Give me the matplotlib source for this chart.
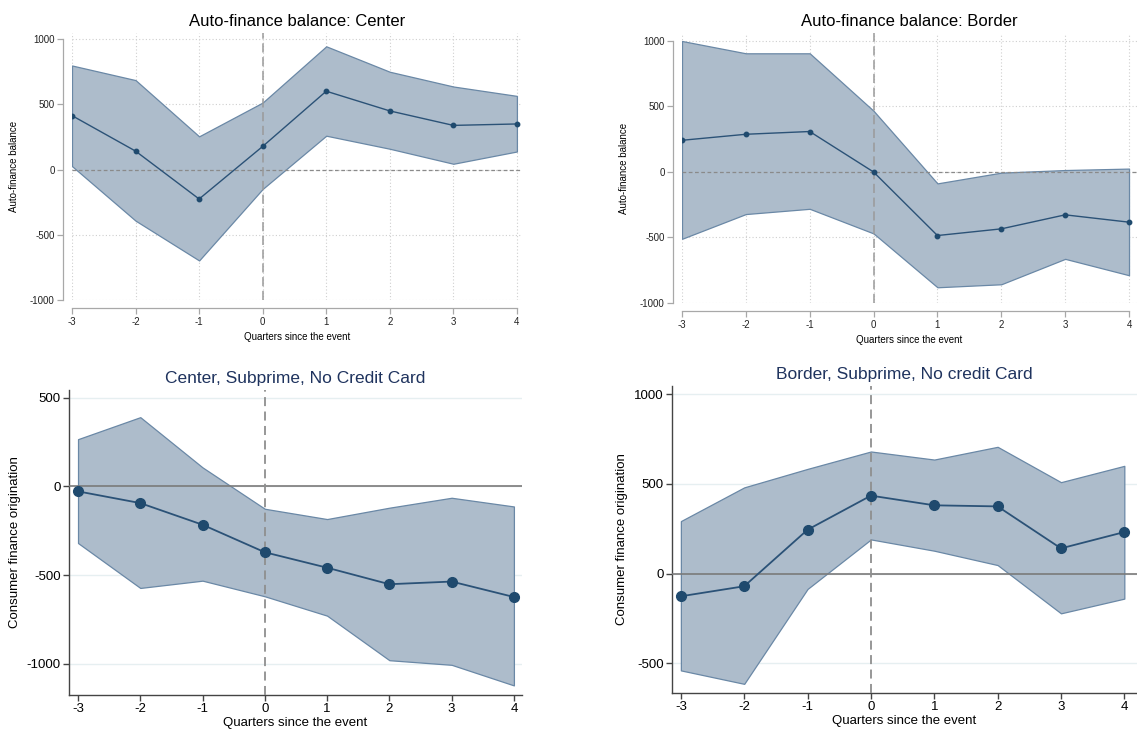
import matplotlib

matplotlib.use("Agg")
import matplotlib.pyplot as plt
import numpy as np

plt.rcParams["font.family"] = ["Liberation Sans", "DejaVu Sans"]
plt.rcParams["axes.unicode_minus"] = False

quarters = [-3, -2, -1, 0, 1, 2, 3, 4]

# Auto-finance balance: Center
center_mean = [413, 141, -226, 177, 600, 449, 338, 349]
center_hi = [797, 685, 254, 513, 944, 749, 636, 564]
center_lo = [26, -392, -697, -149, 259, 159, 44, 138]

# Auto-finance balance: Border
border_mean = [242, 288, 309, 0, -485, -434, -327, -383]
border_hi = [1000, 906, 906, 467, -87, -5, 15, 26]
border_lo = [-510, -321, -281, -469, -880, -857, -663, -788]

# Center, Subprime, No Credit Card
csub_mean = [-28, -94, -216, -371, -458, -551, -536, -623]
csub_hi = [266, 390, 107, -126, -184, -120, -64, -113]
csub_lo = [-319, -572, -531, -619, -728, -979, -1005, -1121]

# Border, Subprime, No credit Card
bsub_mean = [-127, -71, 244, 434, 380, 374, 140, 231]
bsub_hi = [292, 480, 583, 680, 635, 706, 509, 600]
bsub_lo = [-540, -615, -86, 190, 127, 47, -222, -140]

top_yticks = [-1000, -500, 0, 500, 1000]
csub_yticks = [-1000, -500, 0, 500]
bsub_yticks = [-500, 0, 500, 1000]

fill_color = "#adbccb"
edge_color = "#6a88a6"
line_color = "#2b5277"
dot_color = "#1f4a6e"
title_navy = "#1f335e"

fig = plt.figure(figsize=(11.37, 7.36), dpi=100)
W, H = 1137, 736


def px_axes(left, right, top, bottom):
    return fig.add_axes([left / W, 1 - bottom / H, (right - left) / W, (bottom - top) / H])


def draw_band(ax, mean, hi, lo, ms, lw):
    ax.fill_between(quarters, lo, hi, facecolor=fill_color, edgecolor=edge_color,
                    linewidth=0.9, zorder=2)
    ax.plot(quarters, mean, color=line_color, lw=lw, marker="o", ms=ms,
            mfc=dot_color, mec=dot_color, zorder=4)


def style_top(ax, title):
    ax.set_xticks(quarters)
    ax.set_yticks(top_yticks)
    ax.set_xticklabels([str(q) for q in quarters])
    ax.grid(True, linestyle=(0, (1, 2)), color="#cfcfcf", lw=0.8, zorder=0)
    ax.axhline(0, color="#8a8a8a", lw=0.9, ls=(0, (3, 2)), zorder=3)
    ax.axvline(0, color="#9a9a9a", lw=1.1, ls=(0, (6, 3)), zorder=3)
    for s in ["top", "right"]:
        ax.spines[s].set_visible(False)
    ax.spines["left"].set_position(("outward", 6.5))
    ax.spines["bottom"].set_position(("outward", 6))
    ax.spines["left"].set_bounds(-1000, 1000)
    ax.spines["bottom"].set_bounds(-3, 4)
    for s in ["left", "bottom"]:
        ax.spines[s].set_color("#a8a8a8")
        ax.spines[s].set_linewidth(0.9)
    ax.tick_params(axis="both", labelsize=7, color="#a8a8a8", length=4, width=0.9,
                   pad=2, labelcolor="#222222")
    ax.set_ylabel("Auto-finance balance", fontsize=7, labelpad=8)
    ax.set_xlabel("Quarters since the event", fontsize=7, labelpad=4)
    ax.set_title(title, fontsize=12, color="black", pad=5)


def style_bottom(ax, title, yticks):
    ax.set_xticks(quarters)
    ax.set_yticks(yticks)
    ax.set_xticklabels([str(q) for q in quarters])
    ax.grid(True, axis="y", color="#e6eff1", lw=1.0, zorder=0)
    ax.axhline(0, color="#7a7a7a", lw=1.2, zorder=3)
    ax.axvline(0, color="#8f8f8f", lw=1.3, ls=(0, (5, 3)), zorder=3)
    for s in ["top", "right"]:
        ax.spines[s].set_visible(False)
    for s in ["left", "bottom"]:
        ax.spines[s].set_color("#444444")
        ax.spines[s].set_linewidth(1.0)
    ax.tick_params(axis="both", labelsize=9.5, color="#444444", length=4, width=1.0, pad=2)
    ax.set_ylabel("Consumer finance origination", fontsize=9.5, labelpad=4)
    ax.set_xlabel("Quarters since the event", fontsize=9.5, labelpad=1)
    ax.set_title(title, fontsize=12.5, color=title_navy, pad=5)


# top-left
ax1 = px_axes(72, 522, 33, 300)
draw_band(ax1, center_mean, center_hi, center_lo, ms=3.2, lw=1.0)
ax1.set_xlim(-3, 4.08)
ax1.set_ylim(-1000, 1046)
style_top(ax1, "Auto-finance balance: Center")

# top-right
ax2 = px_axes(682, 1137, 33, 303)
draw_band(ax2, border_mean, border_hi, border_lo, ms=3.2, lw=1.0)
ax2.set_xlim(-3, 4.125)
ax2.set_ylim(-1000, 1061)
style_top(ax2, "Auto-finance balance: Border")

# bottom-left
ax3 = px_axes(69, 522, 390, 695)
draw_band(ax3, csub_mean, csub_hi, csub_lo, ms=7, lw=1.3)
ax3.set_xlim(-3.145, 4.13)
ax3.set_ylim(-1175, 543)
style_bottom(ax3, "Center, Subprime, No Credit Card", csub_yticks)

# bottom-right
ax4 = px_axes(672, 1137, 386, 693)
draw_band(ax4, bsub_mean, bsub_hi, bsub_lo, ms=7, lw=1.3)
ax4.set_xlim(-3.14, 4.2)
ax4.set_ylim(-666, 1045)
style_bottom(ax4, "Border, Subprime, No credit Card", bsub_yticks)

fig.savefig("out.png", dpi=100)
plt.close(fig)
